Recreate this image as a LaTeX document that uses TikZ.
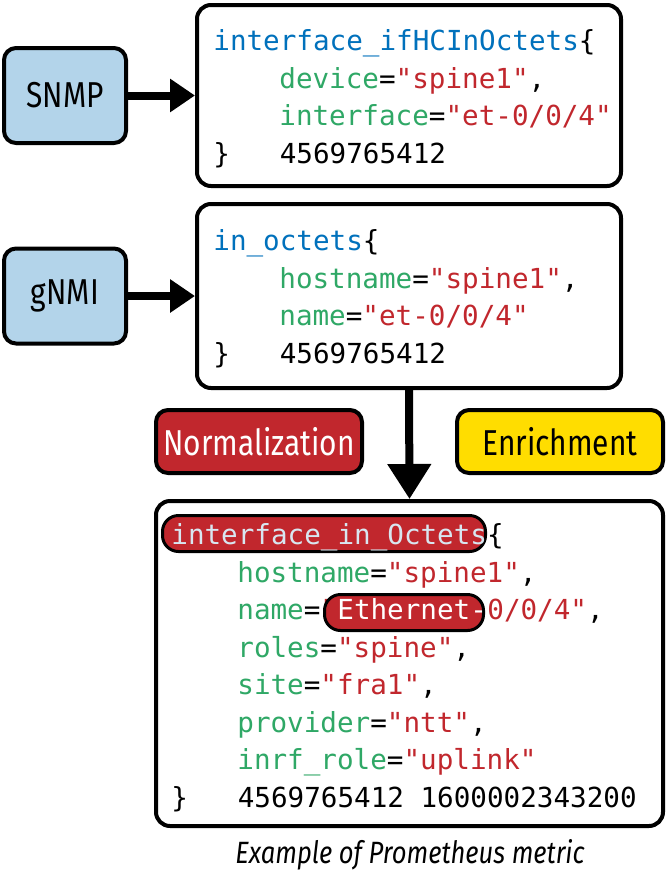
\documentclass[tikz,border=0pt]{standalone}
\usepackage{fontspec}
\setmonofont{DejaVu Sans Mono}
\newfontfamily\labelfont[FakeStretch=0.83]{Fira Sans}
\usetikzlibrary{arrows.meta}

\definecolor{srcblue}{HTML}{B3D4EA}
\definecolor{normred}{HTML}{C1272D}
\definecolor{enryellow}{HTML}{FFDD00}
\definecolor{metblue}{HTML}{0071BC}
\definecolor{lblgreen}{HTML}{2FA866}
\definecolor{valred}{HTML}{C1272D}
\definecolor{hltext}{HTML}{D8E6F0}

\newcommand{\metric}[1]{\textcolor{metblue}{#1}}
\newcommand{\kvline}[2]{\textcolor{lblgreen}{#1}=\textcolor{valred}{"#2"}}

\tikzset{
  srcbox/.style={draw, line width=2pt, rounded corners=6pt, fill=srcblue,
    minimum width=61pt, minimum height=47.5pt,
    font=\labelfont\fontsize{18}{20}\selectfont},
  codebox/.style={draw, line width=2pt, rounded corners=7pt, fill=white},
  stagebox/.style={draw, line width=2pt, rounded corners=6pt,
    minimum width=103pt, minimum height=31.5pt,
    font=\labelfont\fontsize{18}{20}\selectfont},
  code/.style={anchor=base west, inner sep=0pt,
    font=\ttfamily\fontsize{13.8}{16}\selectfont},
  hilite/.style={draw, line width=1.5pt, rounded corners=8pt, fill=normred,
    minimum height=18pt},
  flow/.style={line width=4pt, -{Triangle[length=12.5pt,width=16pt]}},
}

\begin{document}
\begin{tikzpicture}[x=0.5pt, y=-0.5pt]
  \useasboundingbox (0,0) rectangle (667,874);

  % sources
  \node (snmp) [srcbox] at (65,95.5) {SNMP};
  \node (gnmi) [srcbox] at (65,296) {gNMI};

  % raw metrics
  \node (box1) [codebox, minimum width=212pt, minimum height=90.5pt] at (409,95.5) {};
  \node (box2) [codebox, minimum width=212pt, minimum height=92pt] at (409,296) {};

  % SNMP metric
  \node (m1) [code] at (213,50) {\metric{interface\_ifHCInOctets}\{};
  \node (m1a) [code] at (279,88) {\kvline{device}{spine1},};
  \node (m1b) [code] at (279,125) {\kvline{interface}{et-0/0/4}};
  \node (m1v) [code] at (213,163) {\}\phantom{000}4569765412};

  % gNMI metric
  \node (m2) [code] at (213,250) {\metric{in\_octets}\{};
  \node (m2a) [code] at (279,288) {\kvline{hostname}{spine1},};
  \node (m2b) [code] at (279,325) {\kvline{name}{et-0/0/4}};
  \node (m2v) [code] at (213,363) {\}\phantom{000}4569765412};

  % processing stages
  \node (norm) [stagebox, fill=normred, text=white] at (259,441.5) {Normalization};
  \node (enr) [stagebox, fill=enryellow] at (560,441.5) {Enrichment};

  % resulting metric
  \node (box3) [codebox, minimum width=253.5pt, minimum height=162.5pt] at (409.5,663.5) {};
  \node (hl1) [hilite, minimum width=161.5pt] at (324,533.5) {};
  \node (m3) [code, text=hltext] at (171,544.5) {interface\_in\_Octets\textcolor{black}{\{}};
  \node (m3a) [code] at (237,582) {\kvline{hostname}{spine1},};
  \node (m3b) [code] at (237,619.5) {\textcolor{lblgreen}{name}=\textcolor{valred}{"}};
  \node (hl2) [hilite, minimum width=79.5pt] at (404,612.5) {};
  \node (m3n) [code, text=white] at (337,619.5) {Ethernet-};
  \node (m3r) [code] at (487,619.5) {\textcolor{valred}{0/0/4"},};
  \node (m3c) [code] at (237,657) {\kvline{roles}{spine},};
  \node (m3d) [code] at (237,694.5) {\kvline{site}{fra1},};
  \node (m3e) [code] at (237,732) {\kvline{provider}{ntt},};
  \node (m3f) [code] at (237,769.5) {\kvline{inrf\_role}{uplink}};
  \node (m3v) [code] at (171,807) {\}\phantom{000}4569765412\phantom{0}1600002343200};

  % arrows
  \draw[flow] (snmp) -- (box1);
  \draw[flow] (gnmi) -- (box2);
  \draw[flow, -{Triangle[length=17.5pt,width=21pt]}] (box2.south) -- (box3.north);

  % caption
  \node (cap) [font=\labelfont\itshape\fontsize{15.4}{18}\selectfont] at (410,855) {Example of Prometheus metric};
\end{tikzpicture}
\end{document}
